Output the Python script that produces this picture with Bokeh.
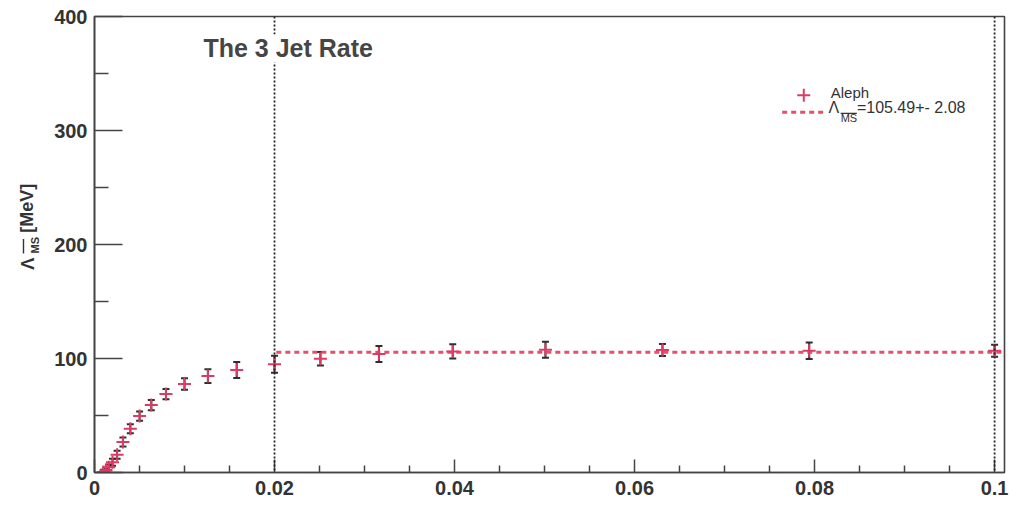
import math
from bokeh.plotting import figure
from bokeh.layouts import row
from bokeh.models import (ColumnDataSource, Whisker, TeeHead, Span, Label, FixedTicker,
                          CustomJSTickFormatter, Range1d)
from bokeh.core.properties import value
from bokeh.embed import file_html
from bokeh.resources import INLINE

# ---------------- data ----------------
y_cut = [0.00100, 0.00126, 0.00158, 0.00200, 0.00251, 0.00316, 0.00398, 0.00501,
         0.00631, 0.00794, 0.0100, 0.0126, 0.0158, 0.0200, 0.0251, 0.0316, 0.0398,
         0.0501, 0.0631, 0.0794, 0.1000]
lambda_ms = [0.5, 2.0, 4.5, 9.0, 15.5, 26.7, 38.4, 49.5, 59.2, 68.8, 77.6, 84.6,
             89.9, 95.0, 99.8, 104.0, 106.2, 107.7, 107.5, 106.8, 106.8]
lambda_err = [2.0, 2.0, 2.5, 3.0, 3.5, 4.0, 4.0, 4.0, 4.5, 4.5, 5.0, 6.0, 7.0, 7.5,
              6.0, 7.0, 6.2, 7.0, 5.3, 7.3, 5.3]
fit_value = 105.49
fit_error = 2.08
fit_x = [0.0202, 0.1011]
cut_lines = [0.02, 0.1]
x_ticks = [0, 0.02, 0.04, 0.06, 0.08, 0.1]
x_minor = [0.005, 0.01, 0.015, 0.025, 0.03, 0.035, 0.045, 0.05, 0.055, 0.065,
           0.07, 0.075, 0.085, 0.09, 0.095]
y_ticks = [0, 100, 200, 300, 400]
y_minor = [50, 150, 250, 350]

title_text = "The 3 Jet Rate"
series_name = "Aleph"
y_label_symbol = "Λ"
y_label_sub = "MS"
y_label_unit = "[MeV]"

FONT = "Liberation Sans"
RED = "#dc3c64"
DASH_RED = "#e4506c"
DARK = "#2b322d"
AX = "#444444"
TXT = "#333333"

src = ColumnDataSource(dict(
    x=y_cut, y=lambda_ms,
    lo=[v - e for v, e in zip(lambda_ms, lambda_err)],
    hi=[v + e for v, e in zip(lambda_ms, lambda_err)],
))

# ---------------- y-axis title strip (left) ----------------
lab = figure(width=40, height=506, output_backend="svg", toolbar_location=None,
             x_range=Range1d(0, 40), y_range=Range1d(0, 506),
             x_axis_type=None, y_axis_type=None,
             min_border_left=0, min_border_right=0, min_border_top=0, min_border_bottom=0)
lab.outline_line_color = None
lab.xgrid.visible = False
lab.ygrid.visible = False
lab.background_fill_color = "white"
lab.border_fill_color = "white"
ang = math.pi / 2
lab.text(x=[27], y=[225], text=[y_label_symbol], angle=ang, text_font=value(FONT),
         text_font_style="bold", text_font_size="18px", text_color=TXT,
         text_baseline="alphabetic", text_align="left")
lab.text(x=[34], y=[243], text=[y_label_sub], angle=ang, text_font=value(FONT),
         text_font_style="bold", text_font_size="11px", text_color=TXT,
         text_baseline="alphabetic", text_align="left")
lab.segment(x0=[23], y0=[243], x1=[23], y1=[259], line_color=TXT, line_width=1.4)
lab.text(x=[26], y=[266], text=[y_label_unit], angle=ang, text_font=value(FONT),
         text_font_style="bold", text_font_size="18px", text_color=TXT,
         text_baseline="alphabetic", text_align="left")

# ---------------- main plot ----------------
p = figure(width=970, height=506, output_backend="svg", toolbar_location=None,
           x_range=Range1d(0, 0.1011), y_range=Range1d(0, 400),
           min_border_left=54, min_border_right=6, min_border_top=16, min_border_bottom=34)
p.background_fill_color = "white"
p.border_fill_color = "white"
p.outline_line_color = AX
p.outline_line_width = 1.6
p.xgrid.visible = False
p.ygrid.visible = False

p.xaxis.ticker = FixedTicker(ticks=x_ticks, minor_ticks=x_minor)
p.yaxis.ticker = FixedTicker(ticks=y_ticks, minor_ticks=y_minor)
p.xaxis.formatter = CustomJSTickFormatter(code="return String(Math.round(tick*1000)/1000);")
p.yaxis.formatter = CustomJSTickFormatter(code="return String(Math.round(tick));")
for ax in (p.xaxis, p.yaxis):
    ax.axis_line_color = AX
    ax.axis_line_width = 1.6
    ax.major_tick_line_color = AX
    ax.minor_tick_line_color = AX
    ax.major_tick_line_width = 1.5
    ax.minor_tick_line_width = 1.5
    ax.major_tick_out = 0
    ax.minor_tick_out = 0
    ax.major_label_text_font = FONT
    ax.major_label_text_font_style = "bold"
    ax.major_label_text_font_size = "20px"
    ax.major_label_text_color = TXT
p.xaxis.major_tick_in = 13
p.xaxis.minor_tick_in = 7
p.xaxis.major_label_standoff = 8
p.yaxis.major_tick_in = 28
p.yaxis.minor_tick_in = 14
p.yaxis.major_label_standoff = 7

# vertical dotted cut lines
for c in cut_lines:
    p.add_layout(Span(location=c, dimension="height", line_color="#222222",
                      line_width=1.8, line_dash="2 2"))

# fit line
p.line(fit_x, [fit_value, fit_value], line_color=DASH_RED, line_width=3, line_dash="5 4")

# data points
p.scatter("x", "y", source=src, marker="cross", size=13, line_color=RED, line_width=2)
p.add_layout(Whisker(base="x", lower="lo", upper="hi", source=src,
                     line_color=DARK, line_width=2,
                     upper_head=TeeHead(size=7, line_color=DARK, line_width=2),
                     lower_head=TeeHead(size=7, line_color=DARK, line_width=2)))

# title inside the frame (white box hides the dotted line behind it)
p.add_layout(Label(x=0.0121, y=372, text=title_text, text_font=FONT, text_font_style="bold",
                   text_font_size="25px", text_color="#454545", text_baseline="middle",
                   background_fill_color="white"))

# manual legend
p.scatter([0.0788], [331.0], marker="cross", size=13, line_color=RED, line_width=2)
p.add_layout(Label(x=0.0818, y=333.0, text=series_name, text_font=FONT,
                   text_font_size="15px", text_color=TXT, text_baseline="middle"))
p.line([0.0764, 0.0810], [316.0, 316.0], line_color=DASH_RED, line_width=3, line_dash="5 4")
p.add_layout(Label(x=0.08155, y=320.5, text=y_label_symbol, text_font=FONT,
                   text_font_size="16px", text_color=TXT, text_baseline="middle"))
p.add_layout(Label(x=0.0829, y=311.0, text=y_label_sub, text_font=FONT,
                   text_font_size="11px", text_color=TXT, text_baseline="middle"))
p.segment(x0=[0.0829], y0=[315.0], x1=[0.0847], y1=[315.0], line_color=TXT, line_width=1.2)
p.add_layout(Label(x=0.0847, y=320.5, text=f"={fit_value:.2f}+- {fit_error:.2f}",
                   text_font=FONT, text_font_size="16px", text_color=TXT,
                   text_baseline="middle"))

layout = row(lab, p)
open("out.html", "w").write(file_html(layout, INLINE))
